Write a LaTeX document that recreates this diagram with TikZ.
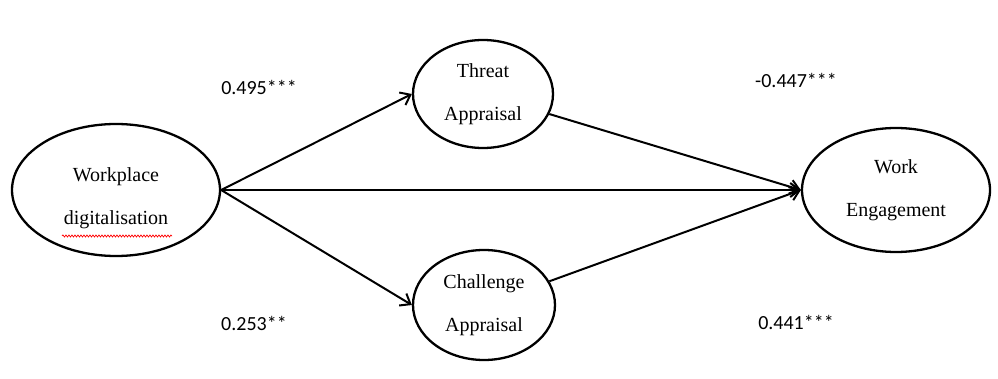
\documentclass[tikz,border=0pt]{standalone}
\usepackage{fontspec}
\setmainfont{Liberation Serif}
\newfontfamily\coeffont{Carlito}
\usetikzlibrary{shapes.geometric}
\usetikzlibrary{arrows.meta}
\usetikzlibrary{decorations.pathmorphing}

\begin{document}
\begin{tikzpicture}[x=1pt, y=-1pt,
    every node/.style={font=\fontsize{20}{43}\selectfont, align=center},
    construct/.style={draw, ellipse, line width=2.3pt, inner sep=0pt},
    coef/.style={font=\coeffont\fontsize{20}{22}\selectfont},
    path/.style={-{Straight Barb[length=9pt,width=14pt]}, line width=2pt}]
    \useasboundingbox (0,0) rectangle (998,379);
    \node[construct,minimum width=208pt,minimum height=132pt] (wd) at (116,190) {};
    \node (wdtext) at (116,198) {Workplace\\digitalisation};
    \node[construct,minimum width=140pt,minimum height=108pt] (ta) at (483,94) {Threat\\Appraisal};
    \node[construct,minimum width=142pt,minimum height=110pt] (ca) at (484,305) {Challenge\\Appraisal};
    \node[construct,minimum width=188pt,minimum height=124pt] (we) at (896,190) {Work\\Engagement};
    \node[coef] (c1) at (259,87) {0.495***};
    \node[coef] (c2) at (796,80) {-0.447***};
    \node[coef] (c3) at (254,323) {0.253**};
    \node[coef] (c4) at (796,322) {0.441***};
    \draw[path] (wd.east) -- (ta.west);
    \draw[path] (wd.east) -- (ca.west);
    \draw[path] (wd.east) -- (we.west);
    \draw[path] (ta) -- (we.west);
    \draw[path] (ca) -- (we.west);
    % spell-check underline
    \draw[red, line width=0.7pt, decorate, decoration={snake, amplitude=1pt, segment length=3pt}] (62,236) -- (172,236);
\end{tikzpicture}
\end{document}
